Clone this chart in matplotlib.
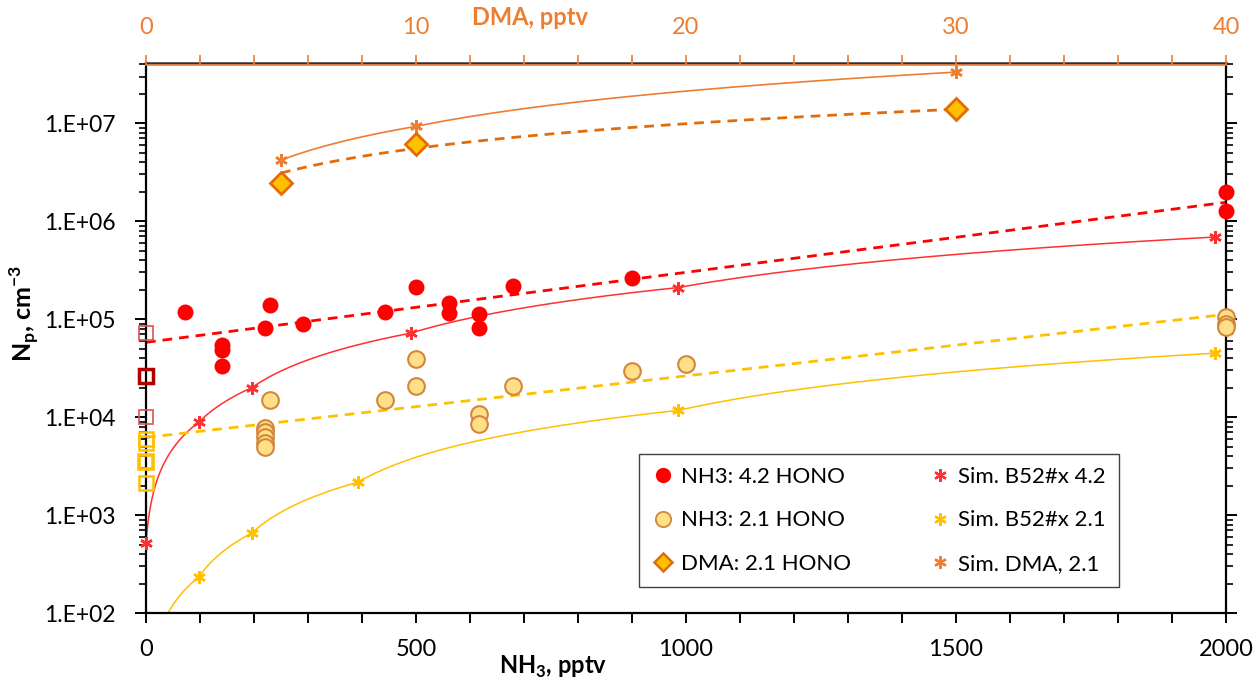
import numpy as np
import matplotlib.pyplot as plt
from matplotlib.path import Path
from matplotlib.lines import Line2D
from matplotlib.ticker import MultipleLocator, LogLocator, NullFormatter, FuncFormatter

plt.rcParams['font.family'] = ['Lato', 'DejaVu Sans']
plt.rcParams['mathtext.fontset'] = 'custom'
plt.rcParams['mathtext.rm'] = 'Lato'
plt.rcParams['mathtext.bf'] = 'Lato:bold'

# measured particle numbers, NH3 with 4.2 HONO
nh3_42_x = [72, 141, 141, 141, 230, 220, 291, 443, 500, 561, 561, 617, 617, 680, 900, 2000, 2000]
nh3_42_y = [1.18e5, 5.4e4, 4.8e4, 3.3e4, 1.39e5, 8.1e4, 8.9e4, 1.18e5, 2.12e5, 1.46e5, 1.15e5,
            1.13e5, 8.1e4, 2.17e5, 2.62e5, 1.98e6, 1.26e6]

# NH3 with 2.1 HONO
nh3_21_x = [230, 220, 220, 220, 220, 220, 443, 500, 500, 617, 617, 680, 900, 1000, 2000, 2000, 2000]
nh3_21_y = [1.5e4, 7.8e3, 7.0e3, 6.2e3, 5.5e3, 4.9e3, 1.5e4, 3.9e4, 2.07e4, 1.07e4, 8.5e3,
            2.07e4, 2.95e4, 3.5e4, 1.05e5, 9.0e4, 8.4e4]

# background runs at 0 pptv
blank_42_y = [7.2e4, 1.0e4]
blank_42_dark_y = [2.6e4]
blank_21_y = [6.0e3, 5.4e3, 2.1e3]
blank_21_thick_y = [3.5e3]

# DMA (top axis, pptv)
dma_x = [5, 10, 30]
dma_y = [2.45e6, 6.1e6, 1.4e7]

# simulations
sim_42_x = [0, 98, 196, 490, 985, 1980]
sim_42_y = [520, 8.9e3, 2.0e4, 7.2e4, 2.1e5, 6.9e5]
sim_21_x = [0, 98, 196, 393, 985, 1980]
sim_21_y = [5, 233, 655, 2.17e3, 1.17e4, 4.5e4]
sim_dma_x = [5, 10, 30]
sim_dma_y = [4.2e6, 9.3e6, 3.33e7]

# trendlines (at the end points)
trend_x = [0, 2000]
trend_42 = [5.8e4, 1.56e6]
trend_21 = [6.2e3, 1.12e5]
trend_dma_x = [5, 30]
trend_dma_y = [3.1e6, 1.39e7]

RED = '#FF0000'
RED_SIM = '#FF3030'
GOLD = '#FFC000'
PALE = '#FFDF88'
BROWN = '#D2873A'
ORANGE = '#ED7D31'
DORANGE = '#E36C0A'


def straight_segments(x, y):
    """vertices of straight data-space segments (curve on log axis)"""
    p = Path(np.column_stack([x, y])).interpolated(60)
    return p.vertices[:, 0], p.vertices[:, 1]


fig = plt.figure(figsize=(12.6, 6.89), dpi=100)
ax = fig.add_axes([146 / 1260, 76 / 689, 1080 / 1260, 550 / 689])
ax.set_yscale('log')
ax.set_xlim(0, 2000)
ax.set_ylim(100, 10 ** (7 + 60 / 97.5))

# lines
sx, sy = straight_segments(sim_42_x, sim_42_y)
ax.plot(sx, sy, color=RED_SIM, lw=1.1, zorder=2)
sx, sy = straight_segments(sim_21_x, sim_21_y)
ax.plot(sx, sy, color=GOLD, lw=1.1, zorder=2)
ax.plot(trend_x, trend_42, color=RED, lw=2, dashes=(3.5, 2.5), zorder=2)
ax.plot(trend_x, trend_21, color=GOLD, lw=2, dashes=(3.5, 2.5), zorder=2)

# markers
ax.plot(sim_42_x, sim_42_y, ls='none', marker=(6, 2, 0), ms=9, mew=1.8, color=RED_SIM,
        zorder=4, clip_on=False)
ax.plot(sim_21_x[1:], sim_21_y[1:], ls='none', marker=(6, 2, 0), ms=9, mew=1.8, color=GOLD,
        zorder=4)
ax.plot(nh3_21_x, nh3_21_y, ls='none', marker='o', ms=12, mfc=PALE, mec=BROWN, mew=1.5,
        zorder=5, clip_on=False)
ax.plot(nh3_42_x, nh3_42_y, ls='none', marker='o', ms=11.5, mfc=RED, mec=RED, mew=0,
        zorder=6, clip_on=False)
ax.plot([0] * len(blank_42_y), blank_42_y, ls='none', marker='s', ms=10, mfc='none',
        mec='#E05050', mew=1.2, zorder=6, clip_on=False)
ax.plot([0] * len(blank_42_dark_y), blank_42_dark_y, ls='none', marker='s', ms=10, mfc='none',
        mec='#B00000', mew=2.5, zorder=6, clip_on=False)
ax.plot([0] * len(blank_21_y), blank_21_y, ls='none', marker='s', ms=10, mfc='none',
        mec=GOLD, mew=1.8, zorder=6, clip_on=False)
ax.plot([0] * len(blank_21_thick_y), blank_21_thick_y, ls='none', marker='s', ms=10, mfc='none',
        mec=GOLD, mew=2.6, zorder=6, clip_on=False)

# axis styling
for s in ['left', 'bottom', 'right']:
    ax.spines[s].set_linewidth(1.6)
    ax.spines[s].set_color('black')
ax.spines['top'].set_linewidth(1.8)
ax.spines['top'].set_color('#303030')

ax.xaxis.set_major_locator(MultipleLocator(500))
ax.xaxis.set_minor_locator(MultipleLocator(100))
ax.yaxis.set_major_locator(LogLocator(base=10, numticks=20))
ax.yaxis.set_minor_locator(LogLocator(base=10, subs=np.arange(2, 10), numticks=20))
ax.yaxis.set_minor_formatter(NullFormatter())
ax.yaxis.set_major_formatter(FuncFormatter(lambda v, _: '1.E+%02d' % round(np.log10(v))))
ax.tick_params(axis='x', which='both', direction='out', length=7, width=1.4, top=False,
               labelsize=17, pad=12)
ax.tick_params(axis='y', which='major', direction='out', length=8, width=1.4, right=True,
               labelsize=16.5, pad=14)
ax.tick_params(axis='y', which='minor', direction='out', length=5, width=1.2, right=True)

ax.set_xlabel('NH$_\\mathbf{3}$, pptv', fontsize=17, fontweight='bold')
ax.xaxis.set_label_coords(0.377, -0.098)
ax.xaxis.label.set_va('center')
ax.set_ylabel('N$_\\mathbf{p}$, cm$^\\mathbf{-3}$', fontsize=18, fontweight='bold')
ax.yaxis.set_label_coords(-0.113, 0.545)
ax.yaxis.label.set_va('center')

# DMA on the top axis
ax2 = ax.twiny()
ax2.set_xlim(0, 40)
tx = np.linspace(trend_dma_x[0], trend_dma_x[1], 80)
b = np.log(trend_dma_y[1] / trend_dma_y[0]) / np.log(trend_dma_x[1] / trend_dma_x[0])
ax2.plot(tx, trend_dma_y[0] * (tx / trend_dma_x[0]) ** b, color=DORANGE, lw=2,
         dashes=(3.5, 2.5), zorder=2)
sx, sy = straight_segments(sim_dma_x, sim_dma_y)
ax2.plot(sx, sy, color=ORANGE, lw=1.2, zorder=2)
ax2.plot(sim_dma_x, sim_dma_y, ls='none', marker=(6, 2, 0), ms=9, mew=1.8, color=ORANGE, zorder=4)
ax2.plot(dma_x, dma_y, ls='none', marker='D', ms=11, mfc=GOLD, mec=DORANGE, mew=2, zorder=5)

for s in ['left', 'bottom', 'right']:
    ax2.spines[s].set_visible(False)
ax2.spines['top'].set_color(ORANGE)
ax2.spines['top'].set_linewidth(1.2)
ax2.spines['top'].set_position(('outward', -1.2))
ax2.xaxis.set_major_locator(MultipleLocator(10))
ax2.xaxis.set_minor_locator(MultipleLocator(2))
ax2.tick_params(axis='x', which='both', direction='out', length=7, width=1.2, color=ORANGE,
                labelcolor=ORANGE, labelsize=17, pad=12)
ax2.text(0.356, 1.082, 'DMA, pptv', transform=ax2.transAxes, ha='center', va='center',
         fontsize=17, fontweight='bold', color=ORANGE)

# legend
star = (6, 2, 0)
handles = [
    Line2D([], [], ls='none', marker='o', ms=11, mfc=RED, mec=RED, mew=0),
    Line2D([], [], ls='none', marker='o', ms=11, mfc=PALE, mec=BROWN, mew=1.3),
    Line2D([], [], ls='none', marker='D', ms=9.5, mfc=GOLD, mec=DORANGE, mew=1.8),
    Line2D([], [], ls='none', marker=star, ms=9, mew=1.6, color=RED_SIM),
    Line2D([], [], ls='none', marker=star, ms=9, mew=1.6, color=GOLD),
    Line2D([], [], ls='none', marker=star, ms=9, mew=1.6, color=ORANGE),
]
labels = ['NH3: 4.2 HONO', 'NH3: 2.1 HONO', 'DMA: 2.1 HONO',
          'Sim. B52#x 4.2', 'Sim. B52#x 2.1', 'Sim. DMA, 2.1']
leg = ax2.legend(handles, labels, ncol=2, loc='lower left',
                 bbox_to_anchor=(0.4565, 0.047), fontsize=16,
                 handlelength=1.0, handletextpad=0.3, labelspacing=1.05,
                 borderpad=0.6, borderaxespad=0, columnspacing=3.5, fancybox=False,
                 framealpha=1)
leg.get_frame().set_edgecolor('#404040')
leg.get_frame().set_linewidth(1)

fig.savefig('out.png', dpi=100)
